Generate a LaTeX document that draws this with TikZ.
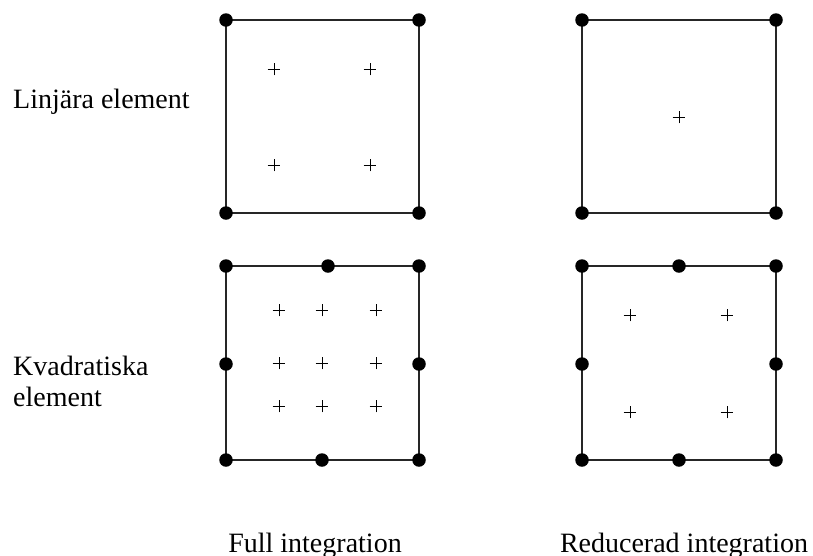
\documentclass[tikz,border=0pt]{standalone}
\usepackage{fontspec}
\setmainfont{Liberation Serif}
\usetikzlibrary{shapes.misc}
\begin{document}
\begin{tikzpicture}[x=1pt,y=-1pt,
  dot/.style={circle,fill=black,inner sep=0pt,minimum size=13.5pt},
  gp/.style={cross out,draw=black,line width=0.6pt,rotate=45,inner sep=0pt,minimum size=8.5pt},
  edge/.style={line width=1.2pt,draw=black!85},
  lbl/.style={font=\fontsize{28}{31}\selectfont,inner sep=0pt,anchor=base west},
  captext/.style={font=\fontsize{28}{31}\selectfont,inner sep=0pt,anchor=base}]
\useasboundingbox (0,0) rectangle (813,555);
% --- top left: linear, full integration
\coordinate (a1) at (226,20);
\coordinate (a2) at (419,20);
\coordinate (a3) at (419,213);
\coordinate (a4) at (226,213);
\draw[edge] (a1) -- (a2) -- (a3) -- (a4) -- cycle;
\node[dot] (na1) at (a1) {};
\node[dot] (na2) at (a2) {};
\node[dot] (na3) at (a3) {};
\node[dot] (na4) at (a4) {};
\node[gp] (ga1) at (274,69) {};
\node[gp] (ga2) at (370,69) {};
\node[gp] (ga3) at (274,165) {};
\node[gp] (ga4) at (370,165) {};
% --- top right: linear, reduced integration
\coordinate (b1) at (582,20);
\coordinate (b2) at (776,20);
\coordinate (b3) at (776,213);
\coordinate (b4) at (582,213);
\draw[edge] (b1) -- (b2) -- (b3) -- (b4) -- cycle;
\node[dot] (nb1) at (b1) {};
\node[dot] (nb2) at (b2) {};
\node[dot] (nb3) at (b3) {};
\node[dot] (nb4) at (b4) {};
\node[gp] (gb1) at (679,117) {};
% --- bottom left: quadratic, full integration
\coordinate (c1) at (226,266);
\coordinate (c2) at (419,266);
\coordinate (c3) at (419,460);
\coordinate (c4) at (226,460);
\draw[edge] (c1) -- (c2) -- (c3) -- (c4) -- cycle;
\node[dot] (nc1) at (c1) {};
\node[dot] (nc2) at (c2) {};
\node[dot] (nc3) at (c3) {};
\node[dot] (nc4) at (c4) {};
\node[dot] (nc5) at (328,266) {};
\node[dot] (nc6) at (419,364) {};
\node[dot] (nc7) at (322,460) {};
\node[dot] (nc8) at (226,364) {};
\foreach \i/\x in {1/279,2/322,3/376}{
  \node[gp] (gc1\i) at (\x,310) {};
  \node[gp] (gc2\i) at (\x,363) {};
  \node[gp] (gc3\i) at (\x,406) {};
}
% --- bottom right: quadratic, reduced integration
\coordinate (d1) at (582,266);
\coordinate (d2) at (776,266);
\coordinate (d3) at (776,460);
\coordinate (d4) at (582,460);
\draw[edge] (d1) -- (d2) -- (d3) -- (d4) -- cycle;
\node[dot] (nd1) at (d1) {};
\node[dot] (nd2) at (d2) {};
\node[dot] (nd3) at (d3) {};
\node[dot] (nd4) at (d4) {};
\node[dot] (nd5) at (679,266) {};
\node[dot] (nd6) at (776,364) {};
\node[dot] (nd7) at (679,460) {};
\node[dot] (nd8) at (582,364) {};
\node[gp] (gd1) at (630,315) {};
\node[gp] (gd2) at (727,315) {};
\node[gp] (gd3) at (630,412) {};
\node[gp] (gd4) at (727,412) {};
% --- labels
\node[lbl] (l1) at (13,108) {Linjära element};
\node[lbl] (l2) at (13,375) {Kvadratiska};
\node[lbl] (l3) at (13,406) {element};
\node[captext] (f1) at (315,552) {Full integration};
\node[captext] (f2) at (684,552) {Reducerad integration};
\end{tikzpicture}
\end{document}
